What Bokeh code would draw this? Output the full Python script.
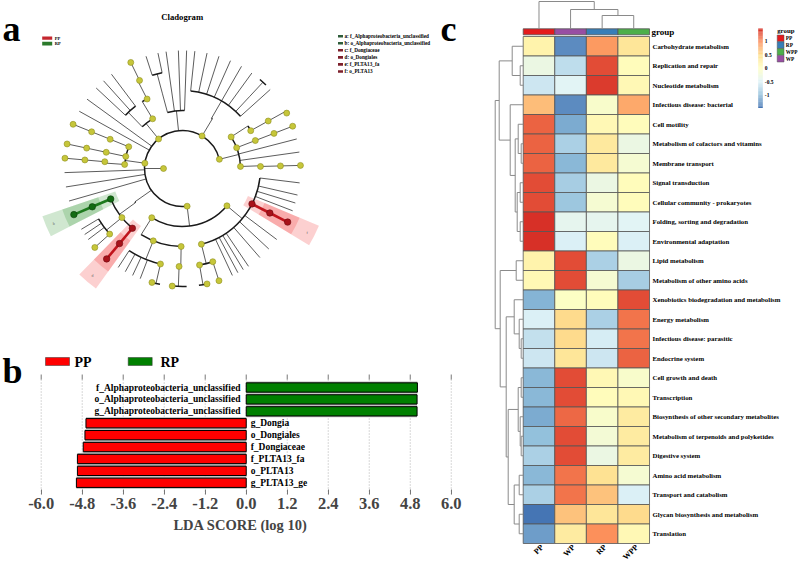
import math
import numpy as np
from bokeh.plotting import figure
from bokeh.layouts import row, column
from bokeh.models import Range1d, ColumnDataSource, LinearColorMapper, FixedTicker, PrintfTickFormatter
from bokeh.transform import transform
from bokeh.core.properties import value
from bokeh.embed import file_html
from bokeh.resources import INLINE

SERIF = "Liberation Serif"

# ======================= panel a : cladogram data =======================
node_parent = [-1,
               0, 1, 2, 3, 4, 1, 1, 1, 8, 9, 10, 1, 12, 13, 14,
               0, 16, 17, 17, 19, 19, 17, 17, 17, 17, 17, 17,
               0, 28, 28, 28, 28, 32, 32,
               0, 35, 36, 37, 38, 35, 40, 40, 40,
               0, 0,
               0, 46, 47, 48, 49, 46, 51, 52, 53, 46, 55, 56, 57,
               0, 0, 0,
               0, 62, 63, 64, 65, 63, 67, 67, 67, 70, 67, 63, 73, 74,
               0, 76, 77, 78, 78, 78, 78, 78, 83, 83, 77, 86, 87, 87, 87,
               76, 91, 92, 93, 93, 92, 96, 91, 91, 91, 91, 91, 91, 91, 91, 105, 106, 91, 91, 91, 91]
node_angle = [180,
              14, 2, 1.5, 1.5, 1.5, 8, 14.5, 21, 21, 21, 21, 33, 29, 29, 28,
              59, 60, 42, 47, 45, 49, 54, 60, 66, 72, 78, 84,
              96, 88, 92, 98, 105, 102, 108,
              129, 121, 117, 116, 116, 134, 127, 132, 137,
              144, 151,
              172, 158, 158, 158, 158, 168, 168, 168, 168, 176, 175, 175, 175,
              182, 189, 196,
              215, 216, 203, 203, 203, 219, 211, 214, 222, 222, 217, 230, 230, 230,
              277, 238, 248, 237, 241, 245, 249, 257, 255, 259, 269, 268, 265, 269, 272,
              320, 284, 280, 278, 282, 288, 288, 295, 298, 301, 304, 311, 317, 323, 333, 333, 333, 339, 343, 347, 353]
node_level = [0,
              1, 2, 3, 4, 5, 5, 5, 2, 3, 4, 5, 2, 3, 4, 5,
              1, 2, 5, 4, 5, 5, 5, 5, 5, 5, 5, 5,
              1, 5, 5, 5, 3, 5, 5,
              1, 2, 3, 4, 5, 2, 5, 5, 5,
              5, 5,
              1, 2, 3, 4, 5, 2, 3, 4, 5, 2, 3, 4, 5,
              5, 5, 5,
              1, 2, 3, 4, 5, 3, 5, 5, 4, 5, 5, 3, 4, 5,
              1, 2, 3, 5, 5, 5, 5, 4, 5, 5, 3, 4, 5, 5, 5,
              2, 3, 4, 5, 5, 4, 5, 5, 5, 5, 5, 5, 5, 5, 3, 4, 5, 5, 5, 5, 5]
node_kind = ["y",
             "y", "y", "y", "y", "y", "n", "n", "y", "y", "y", "y", "y", "y", "y", "y",
             "y", "n", "n", "n", "n", "n", "n", "n", "n", "n", "n", "n",
             "n", "n", "n", "n", "n", "n", "n",
             "y", "y", "y", "y", "y", "n", "n", "n", "n",
             "n", "n",
             "y", "y", "y", "y", "y", "y", "y", "y", "y", "y", "y", "y", "y",
             "n", "n", "n",
             "n", "n", "g", "g", "g", "y", "n", "n", "y", "y", "n", "r", "r", "r",
             "y", "y", "y", "n", "n", "n", "n", "y", "y", "n", "y", "y", "y", "n", "n",
             "y", "y", "y", "n", "y", "y", "y", "n", "n", "n", "n", "n", "n", "n", "r", "r", "r", "n", "n", "n", "n"]
level_radius = [19, 38, 58, 78, 98, 118]

hl_nodes = [65, 64, 74, 73, 106, 105]
hl_letters = ["a", "b", "c", "d", "e", "f"]
hl_names = ["f_Alphaproteobacteria_unclassified", "o_Alphaproteobacteria_unclassified",
            "f_Dongiaceae", "o_Dongiales", "f_PLTA13_fa", "o_PLTA13"]
clado_groups = ["PP", "RP"]

# ======================= panel b : LDA data =======================
lda_taxa = ["f_Alphaproteobacteria_unclassified", "o_Alphaproteobacteria_unclassified",
            "g_Alphaproteobacteria_unclassified", "g_Dongia", "o_Dongiales", "f_Dongiaceae",
            "f_PLTA13_fa", "o_PLTA13", "g_PLTA13_ge"]
lda_scores = [5.01, 5.0, 5.0, -4.69, -4.72, -4.77, -4.94, -4.94, -4.97]
lda_ticks = [-6.0, -4.8, -3.6, -2.4, -1.2, 0.0, 1.2, 2.4, 3.6, 4.8, 6.0]
lda_groups = ["PP", "RP"]

# ======================= panel c : heatmap data =======================
pathways = ["Carbohydrate metabolism", "Replication and repair", "Nucleotide metabolism",
            "Infectious disease: bacterial", "Cell motility", "Metabolism of cofactors and vitamins",
            "Membrane transport", "Signal transduction", "Cellular community - prokaryotes",
            "Folding, sorting and degradation", "Environmental adaptation", "Lipid metabolism",
            "Metabolism of other amino acids", "Xenobiotics biodegradation and metabolism",
            "Energy metabolism", "Infectious disease: parasitic", "Endocrine system",
            "Cell growth and death", "Transcription", "Biosynthesis of other secondary metabolites",
            "Metabolism of terpenoids and polyketides", "Digestive system", "Amino acid metabolism",
            "Transport and catabolism", "Glycan biosynthesis and metabolism", "Translation"]
heat_cols = ["PP", "WP", "RP", "WPP"]
pp_vals = [0.2, -0.3, -0.6, 0.7, 1.2, 1.2, 1.2, 1.3, 1.3, 1.45, 1.45, 0.2, 0.1, -1.05, -0.5, -0.65,
           -0.6, -1.0, -1.0, -1.1, -0.95, -0.8, -1.0, -0.8, -1.45, -1.2]
wp_vals = [-1.3, -0.7, -0.45, -1.3, -1.1, -0.8, -1.0, -0.85, -0.9, -0.4, -0.5, 1.3, 1.3, -0.05, 0.5,
           0.5, 0.4, 1.3, 1.3, 1.15, 1.3, 1.3, 1.1, 1.1, 0.65, 0.3]
rp_vals = [0.9, 1.3, 1.4, -0.1, 0.1, 0.35, 0.35, -0.3, -0.15, -0.4, 0.05, -0.8, -0.15, 0.05, -0.8,
           -0.55, -0.6, 0.1, 0.05, -0.1, -0.2, -0.3, 0.45, 0.65, 0.4, 0.95]
wpp_vals = [0.4, 0.05, 0.1, 0.8, 0.05, -0.3, -0.15, 0.05, 0.05, -0.45, -0.5, -0.3, -0.85, 1.3, 1.1,
            1.1, 1.2, -0.1, 0.1, 0.3, 0.3, 0.3, -0.15, -0.5, 0.5, 0.1]
group_names = ["PP", "RP", "WPP", "WP"]
group_colors = ["#E41A1C", "#377EB8", "#4DAF4A", "#984EA3"]
colorbar_ticks = [1, 0.5, 0, -0.5, -1]
# column dendrogram (leaves 0..3 = PP, WP, RP, WPP)
col_merge_a = [2, 1, 0]
col_merge_b = [3, 4, 5]
col_merge_h = [13.3, 19.3, 27.3]
# row dendrogram (leaves 0..25, clusters 26..)
row_merge_a = [1, 0, 5, 4, 7, 9, 30, 29, 3, 27, 11, 15, 14, 13, 17, 20, 19, 40, 22, 24, 44, 43, 39, 36, 35]
row_merge_b = [2, 26, 6, 28, 8, 10, 31, 32, 33, 34, 12, 16, 37, 38, 18, 21, 41, 42, 23, 25, 45, 46, 47, 48, 49]
row_merge_h = [3, 11, 2, 5, 3, 3, 6, 8, 13, 24, 7, 2, 4, 9, 2, 2, 3, 5, 4, 4, 9, 15, 17, 23, 28]


def txt(p, x, y, t, size, align="left", baseline="middle", color="black", bold=True, angle=0.0):
    p.text(x=x, y=y, text=t, text_font=value(SERIF), text_font_style="bold" if bold else "normal",
           text_font_size=size, text_align=align, text_baseline=baseline, text_color=color, angle=angle)


# ======================= panel a =======================
pa = figure(width=480, height=340, x_range=Range1d(-182, 298), y_range=Range1d(-172, 168),
            x_axis_type=None, y_axis_type=None, output_backend="svg", toolbar_location=None, min_border=0)
pa.outline_line_color = None


def polar(r, deg):
    a = math.radians(deg)
    return r * math.cos(a), r * math.sin(a)


# clade shading
for node, letter in zip(hl_nodes, hl_letters):
    lvl = node_level[node]
    th = node_angle[node]
    inner, outer = (71, 148) if lvl == 3 else (89, 127)
    col = "#3c9c3c" if node_kind[node] == "g" else "#f23c3c"
    pa.annular_wedge(x=0, y=0, inner_radius=inner, outer_radius=outer,
                     start_angle=math.radians(th - 4.2), end_angle=math.radians(th + 4.2),
                     fill_color=col, fill_alpha=0.24, line_color=None)
    lx, ly = polar(outer - 8, th)
    txt(pa, [lx], [ly], [letter], "4px", align="center", color="#666666", bold=False)

children = [[] for _ in node_parent]
for i, par in enumerate(node_parent):
    if par >= 0:
        children[par].append(i)

segs = {None: ([], [], [], []), "g": ([], [], [], []), "r": ([], [], [], [])}
arc_r, arc_s, arc_e = [], [], []


def add_seg(r0, r1, deg, kind):
    x0, y0 = polar(r0, deg)
    x1, y1 = polar(r1, deg)
    s = segs[kind]
    s[0].append(x0); s[1].append(y0); s[2].append(x1); s[3].append(y1)


for par, kids in enumerate(children):
    if not kids:
        continue
    lp = node_level[par]
    tp = node_angle[par]
    kp = node_kind[par] if node_kind[par] in "gr" else None
    add_seg(level_radius[lp], level_radius[lp + 1], tp, kp)
    angs = [tp] + [node_angle[c] for c in kids]
    if max(angs) > min(angs):
        arc_r.append(level_radius[lp + 1]); arc_s.append(math.radians(min(angs))); arc_e.append(math.radians(max(angs)))
    for c in kids:
        lc = node_level[c]
        if lc > lp + 1:
            kc = node_kind[c] if (node_kind[c] in "gr" and kp) else None
            add_seg(level_radius[lp + 1], level_radius[lc], node_angle[c], kc)

s = segs[None]
pa.segment(x0=s[0], y0=s[1], x1=s[2], y1=s[3], line_color="#4a4a4a", line_width=0.9)
pa.arc(x=[0] * len(arc_r), y=[0] * len(arc_r), radius=arc_r, start_angle=arc_s, end_angle=arc_e,
       direction="anticlock", line_color="#1a1a1a", line_width=1.5)
for k, colr in (("g", "#1d7a1d"), ("r", "#c0141c")):
    s = segs[k]
    pa.segment(x0=s[0], y0=s[1], x1=s[2], y1=s[3], line_color=colr, line_width=2.6)

dot_style = {"y": ("#c6c63a", "#8f8f20", 6), "g": ("#136b13", "#0b400b", 6.5), "r": ("#a8121a", "#6b0a10", 6.5)}
for k, (fc, lc, sz) in dot_style.items():
    xs, ys = [], []
    for i, kind in enumerate(node_kind):
        if kind == k:
            x, y = polar(level_radius[node_level[i]], node_angle[i])
            xs.append(x); ys.append(y)
    pa.scatter(x=xs, y=ys, size=sz, fill_color=fc, line_color=lc, line_width=0.6)

# titles and legends of panel a
txt(pa, [-180], [140], ["a"], "36px", baseline="alphabetic")
txt(pa, [258], [139.7], ["c"], "36px", baseline="alphabetic")
txt(pa, [-0.3], [151.5], ["Cladogram"], "8.7px", align="center")
pa.quad(left=[-140.3, -140.3], right=[-130.3, -130.3], top=[132, 126.7], bottom=[128.7, 123],
        fill_color=["#c4262e", "#2b7a2b"], line_color=None)
txt(pa, [-127.7, -127.7], [130.3, 124.8], clado_groups, "4.5px")
leg_y = [168 - (35.7 + 7.05 * i) for i in range(len(hl_names))]
leg_col = ["#2f5d3a" if node_kind[n] == "g" else "#7d1f2b" for n in hl_nodes]
pa.quad(left=[155.5] * 6, right=[160.5] * 6, top=[y + 1.3 for y in leg_y], bottom=[y - 1.3 for y in leg_y],
        fill_color=leg_col, line_color=None)
txt(pa, [162] * 6, leg_y, [f"{l}: {n}" for l, n in zip(hl_letters, hl_names)], "5.2px")

# ======================= panel b =======================
PXU = 34.17
pb = figure(width=480, height=221, x_range=Range1d(-6 - 40.7 / PXU, -6 + (480 - 40.7) / PXU),
            y_range=Range1d(-(494 - 387) / 11.91, (387 - 340) / 11.91),
            y_axis_type=None, output_backend="svg", toolbar_location=None,
            min_border_left=0, min_border_right=0, min_border_top=0, min_border_bottom=67)
pb.outline_line_color = None
pb.xgrid.visible = False
ax = pb.xaxis[0]
ax.ticker = FixedTicker(ticks=lda_ticks)
ax.formatter = PrintfTickFormatter(format="%.1f")
ax.axis_line_color = None
ax.major_tick_in = 5
ax.major_tick_out = 0
ax.major_tick_line_color = "#777777"
ax.minor_tick_line_color = None
ax.major_label_text_font = SERIF
ax.major_label_text_font_style = "bold"
ax.major_label_text_font_size = "16.5px"
ax.major_label_standoff = 3
ax.axis_label = "LDA SCORE (log 10)"
ax.axis_label_text_font = SERIF
ax.axis_label_text_font_style = "bold"
ax.axis_label_text_font_size = "14.5px"
ax.axis_label_standoff = 5

pb.segment(x0=lda_ticks, y0=[0.67] * 11, x1=lda_ticks, y1=[-8.984] * 11, line_color="#b0b0b0",
           line_width=1, line_dash="1 2")
pb.segment(x0=lda_ticks, y0=[1.09] * 11, x1=lda_ticks, y1=[0.67] * 11, line_color="#777777", line_width=1)

ys = [-i for i in range(len(lda_taxa))]
lefts = [min(0, v) for v in lda_scores]
rights = [max(0, v) for v in lda_scores]
cols = ["#008000" if v > 0 else "#ff0000" for v in lda_scores]
pb.hbar(y=ys, left=lefts, right=rights, height=1.0, fill_color="#b5b5b5", line_color=None)
pb.hbar(y=ys, left=lefts, right=rights, height=0.78, fill_color=cols, line_color="black", line_width=1)
pos_i = [i for i, v in enumerate(lda_scores) if v > 0]
neg_i = [i for i, v in enumerate(lda_scores) if v <= 0]
txt(pb, [-0.17] * len(pos_i), [-i for i in pos_i], [lda_taxa[i] for i in pos_i], "9.5px", align="right")
txt(pb, [0.13] * len(neg_i), [-i for i in neg_i], [lda_taxa[i] for i in neg_i], "9.5px", align="left")

x0b = -6 - 40.7 / PXU
pb.quad(left=[x0b + 45 / PXU, x0b + 127.7 / PXU], right=[x0b + 69 / PXU, x0b + 151.7 / PXU],
        top=[(387 - 357) / 11.91] * 2, bottom=[(387 - 365) / 11.91] * 2,
        fill_color=["#ff0000", "#008000"], line_color="#333333", line_width=0.5)
txt(pb, [x0b + 74 / PXU, x0b + 160 / PXU], [(387 - 361.5) / 11.91] * 2, lda_groups, "14px")
txt(pb, [x0b + 2 / PXU], [(387 - 370) / 11.91], ["b"], "36px", baseline="alphabetic")

# ======================= panel c =======================
HX0, CW, HY0, RH = 522.7, 31.58, 45.75, 19.5


def cx(px):
    return (px - HX0) / CW


def cy(py):
    return (HY0 - py) / RH


pc = figure(width=319, height=561, x_range=Range1d(cx(480), cx(799)), y_range=Range1d(cy(561), cy(0)),
            x_axis_type=None, y_axis_type=None, output_backend="svg", toolbar_location=None, min_border=0)
pc.outline_line_color = None

base7 = ["#4575B4", "#91BFDB", "#E0F3F8", "#FFFFBF", "#FEE090", "#FC8D59", "#D73027"]
rgb7 = np.array([[int(c[i:i + 2], 16) for i in (1, 3, 5)] for c in base7], dtype=float)
tt = np.linspace(0, 6, 100)
pal = []
for t in tt:
    i0 = min(int(np.floor(t)), 5)
    f = t - i0
    c = rgb7[i0] * (1 - f) + rgb7[i0 + 1] * f
    pal.append("#%02x%02x%02x" % tuple(int(round(v)) for v in c))
VMAX = 1.47
mapper = LinearColorMapper(palette=pal, low=-VMAX, high=VMAX)

hx, hy, hv = [], [], []
for j, vals in enumerate([pp_vals, wp_vals, rp_vals, wpp_vals]):
    for r, v in enumerate(vals):
        hx.append(j + 0.5); hy.append(-r); hv.append(v)
src = ColumnDataSource(dict(x=hx, y=hy, v=hv))
pc.rect(x="x", y="y", width=1, height=1, source=src, fill_color=transform("v", mapper),
        line_color="#555555", line_width=0.8)

# group annotation bar
gmap = dict(zip(group_names, group_colors))
pc.rect(x=[j + 0.5 for j in range(4)], y=[cy(31.3)] * 4, width=1, height=6 / RH,
        fill_color=[gmap[c] for c in heat_cols], line_color="#555555", line_width=0.8)
txt(pc, [cx(651)], [cy(31)], ["group"], "9px")

# column dendrogram
ybase = cy(28.3)
cpos = {j: (j + 0.5, 0.0) for j in range(4)}
cxs, cys = [], []
for k, (a, b, h) in enumerate(zip(col_merge_a, col_merge_b, col_merge_h)):
    xa, ha = cpos[a]
    xb, hb = cpos[b]
    cxs.append([xa, xa, xb, xb])
    cys.append([ybase + ha / RH, ybase + h / RH, ybase + h / RH, ybase + hb / RH])
    cpos[4 + k] = ((xa + xb) / 2, h)
pc.multi_line(xs=cxs, ys=cys, line_color="#8a8a8a", line_width=1)

# row dendrogram
rpos = {r: (-r, 0.0) for r in range(len(pathways))}
rxs, rys = [], []
for k, (a, b, h) in enumerate(zip(row_merge_a, row_merge_b, row_merge_h)):
    ya, ha = rpos[a]
    yb, hb = rpos[b]
    rxs.append([-ha / CW, -h / CW, -h / CW, -hb / CW])
    rys.append([ya, ya, yb, yb])
    rpos[len(pathways) + k] = ((ya + yb) / 2, h)
pc.multi_line(xs=rxs, ys=rys, line_color="#8a8a8a", line_width=1)

# row labels
txt(pc, [cx(652)] * len(pathways), [-r for r in range(len(pathways))], pathways, "6.8px")
# column labels
txt(pc, [j + 0.6 for j in range(4)], [cy(545.5)] * 4, heat_cols, "8px", align="right",
    angle=math.pi / 4)

# colour bar
vals = np.linspace(-VMAX, VMAX, len(pal) + 1)
pc.quad(left=[cx(757.7)] * len(pal), right=[cx(762.3)] * len(pal),
        bottom=[cy(67.7 - 27 * v) for v in vals[:-1]], top=[cy(67.7 - 27 * v) for v in vals[1:]],
        fill_color=pal, line_color=None)
txt(pc, [cx(764.3)] * 5, [cy(67.7 - 27 * v) for v in colorbar_ticks], [f"{v:g}" for v in colorbar_ticks], "5.5px")

# group legend
txt(pc, [cx(776.7)], [cy(30)], ["group"], "6.8px")
gtop = [34.5 + 6.8 * i for i in range(4)]
pc.quad(left=[cx(776.7)] * 4, right=[cx(783.5)] * 4, top=[cy(t) for t in gtop],
        bottom=[cy(t + 6.6) for t in gtop], fill_color=group_colors, line_color="#555555", line_width=0.5)
txt(pc, [cx(785.3)] * 4, [cy(t + 3.3) for t in gtop], group_names, "5.3px")

layout = row(column(pa, pb), pc)
open("out.html", "w").write(file_html(layout, INLINE))
